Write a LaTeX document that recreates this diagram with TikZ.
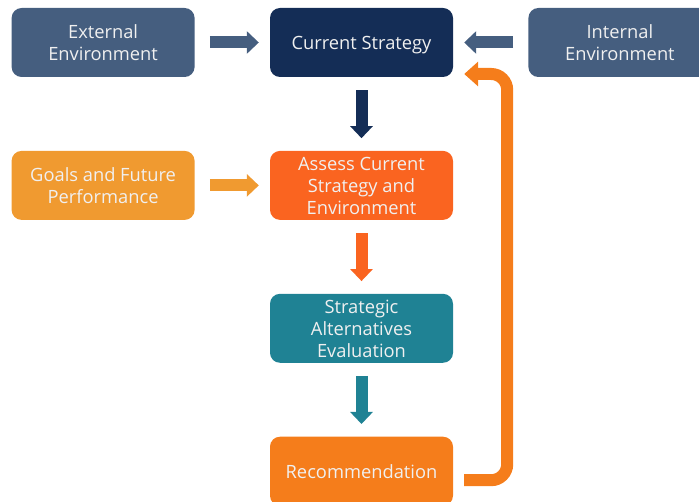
\documentclass[tikz,border=0pt]{standalone}
\usepackage{fontspec}
\setmainfont{Open Sans}
\usetikzlibrary{positioning, arrows.meta}
\definecolor{slate}{HTML}{455E7F}
\definecolor{navy}{HTML}{142D56}
\definecolor{goalorange}{HTML}{F09A30}
\definecolor{redorange}{HTML}{FA6420}
\definecolor{teal}{HTML}{1F8294}
\definecolor{recorange}{HTML}{F57D1B}

\begin{document}
\begin{tikzpicture}[x=1pt, y=-1pt, node distance=73.5pt and 75pt, every node/.style={font=\fontsize{18.3}{22}\selectfont}]
  \tikzstyle{box} = [rectangle, rounded corners=10pt, minimum width=183pt, minimum height=69pt, inner sep=0pt, align=center, text=white!94!black, text depth=0pt]
  \tikzstyle{arrow} = [line width=12pt, -{Triangle[length=12pt, width=22pt]}]
  \tikzstyle{harrow} = [arrow, shorten <=15pt, shorten >=11pt]
  \tikzstyle{varrow} = [arrow, shorten <=13pt, shorten >=12.5pt]

  \clip (0,0) rectangle (699,502);

  \node (cur) [box, fill=navy] at (361.5,42.5) {Current Strategy};
  \node (ext) [box, fill=slate, left=of cur] {External\\Environment};
  \node (int) [box, fill=slate, right=of cur] {Internal\\Environment};
  \node (assess) [box, fill=redorange, below=of cur] {Assess Current\\Strategy and\\Environment};
  \node (goals) [box, fill=goalorange, left=of assess] {Goals and Future\\Performance};
  \node (strat) [box, fill=teal, below=of assess] {Strategic\\Alternatives\\Evaluation};
  \node (rec) [box, fill=recorange, below=of strat] {Recommendation};

  \draw [harrow, slate] (ext) -- (cur);
  \draw [harrow, slate] (int) -- (cur);
  \draw [harrow, goalorange] (goals) -- (assess);
  \draw [varrow, navy] (cur) -- (assess);
  \draw [varrow, redorange] (assess) -- (strat);
  \draw [varrow, teal] (strat) -- (rec);
  \draw [line width=12pt, recorange, rounded corners=16pt, -{Triangle[length=14pt, width=24pt]}]
    ([shift={(11,9)}]rec.east) -| ([shift={(54,31.5)}]cur.east) -- ([shift={(11,31.5)}]cur.east);
\end{tikzpicture}
\end{document}
